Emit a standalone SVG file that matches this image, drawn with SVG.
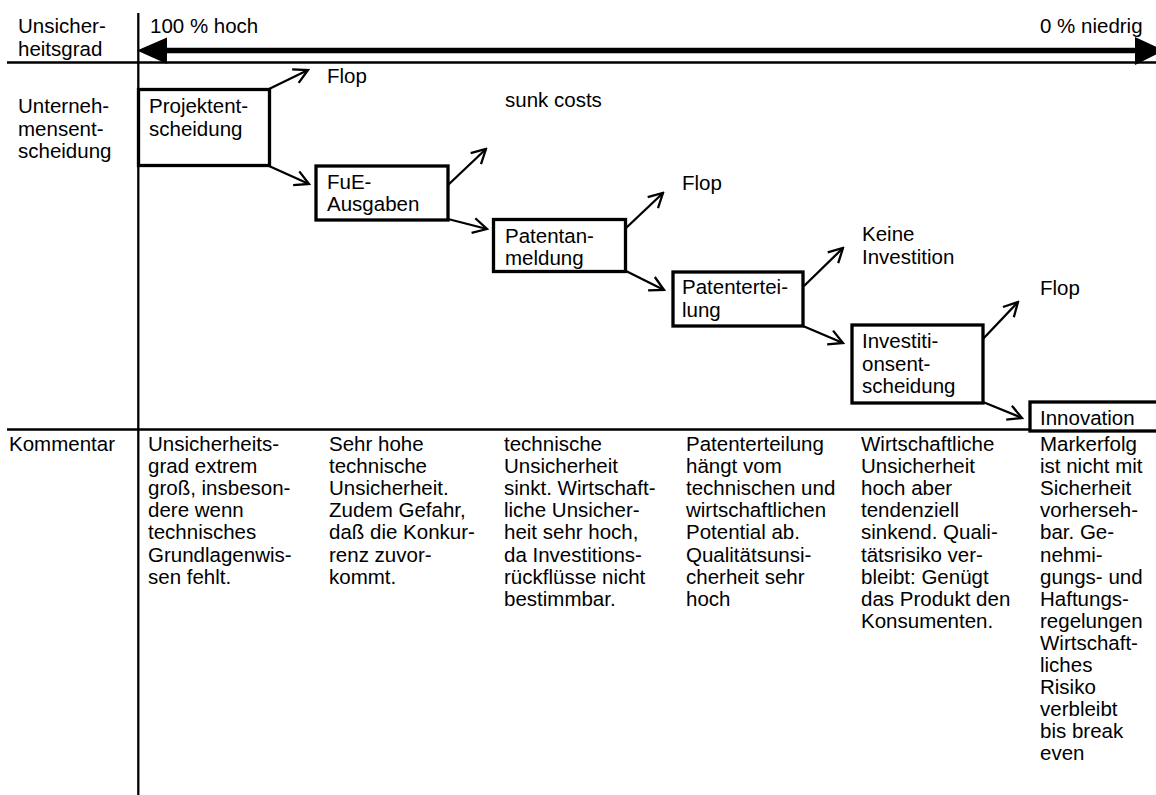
<svg xmlns="http://www.w3.org/2000/svg" width="1156" height="795" viewBox="0 0 1156 795">
  <defs>
    <style>
      text { font-family: "Liberation Sans", Arial, sans-serif; font-size: 20.5px; fill: #000; }
      .rule { stroke: #000; stroke-width: 2.3; fill: none; }
      .box { stroke: #000; stroke-width: 3.3; fill: #fff; }
      .edge { stroke: #000; stroke-width: 2.3; fill: none; marker-end: url(#chev); }
    </style>
    <marker id="chev" markerUnits="userSpaceOnUse" viewBox="-16 -9 18 18" refX="0" refY="0" markerWidth="18" markerHeight="18" orient="auto">
      <path d="M-14,-7.5 L0,0 L-14,7.5" fill="none" stroke="#000" stroke-width="2.3" stroke-linejoin="miter"/>
    </marker>
  </defs>
  <rect width="1156" height="795" fill="#fff"/>

  <!-- table rules -->
  <g id="grid">
    <line class="rule" x1="7" y1="62.5" x2="1156" y2="62.5"/>
    <line class="rule" x1="7" y1="429.5" x2="1156" y2="429.5"/>
    <line class="rule" x1="138.3" y1="13" x2="138.3" y2="795"/>
  </g>

  <!-- uncertainty scale -->
  <g id="scale">
    <line x1="160" y1="50.5" x2="1140" y2="50.5" stroke="#000" stroke-width="5.5"/>
    <polygon points="137,50.5 167,37.5 167,64" fill="#000"/>
    <polygon points="1164,50.5 1135,37 1135,65" fill="#000"/>
    <text x="150" y="33">100 % hoch</text>
    <text x="1040" y="33">0 % niedrig</text>
  </g>

  <!-- row labels -->
  <g id="row-labels">
    <text x="18" y="33">Unsicher-</text>
    <text x="18" y="56">heitsgrad</text>
    <text x="18" y="113">Unterneh-</text>
    <text x="18" y="135.5">mensent-</text>
    <text x="18" y="158">scheidung</text>
    <text x="9" y="451">Kommentar</text>
  </g>

  <!-- connectors -->
  <g id="connectors">
    <line class="edge" x1="269" y1="89" x2="308" y2="70"/>
    <line class="edge" x1="269" y1="166" x2="309" y2="184"/>
    <line class="edge" x1="448" y1="185" x2="486" y2="149"/>
    <line class="edge" x1="448" y1="219" x2="487" y2="229"/>
    <line class="edge" x1="626" y1="228" x2="663" y2="193"/>
    <line class="edge" x1="626" y1="271" x2="664" y2="290"/>
    <line class="edge" x1="804" y1="286" x2="843" y2="248"/>
    <line class="edge" x1="803" y1="326" x2="843" y2="343"/>
    <line class="edge" x1="982" y1="340" x2="1018" y2="302"/>
    <line class="edge" x1="983" y1="402" x2="1022" y2="418"/>
  </g>

  <!-- decision nodes -->
  <g id="projektentscheidung">
    <rect class="box" x="138.5" y="89.5" width="131" height="76"/>
    <text x="149" y="113">Projektent-</text>
    <text x="149" y="135.5">scheidung</text>
  </g>
  <g id="fue-ausgaben">
    <rect class="box" x="316" y="166" width="132" height="54"/>
    <text x="327" y="188.5">FuE-</text>
    <text x="327" y="211">Ausgaben</text>
  </g>
  <g id="patentanmeldung">
    <rect class="box" x="493.5" y="219.5" width="132" height="52"/>
    <text x="505" y="242.5">Patentan-</text>
    <text x="505" y="265">meldung</text>
  </g>
  <g id="patenterteilung">
    <rect class="box" x="673" y="272" width="130" height="54"/>
    <text x="682" y="294">Patentertei-</text>
    <text x="682" y="317">lung</text>
  </g>
  <g id="investitionsentscheidung">
    <rect class="box" x="852" y="325" width="131" height="78"/>
    <text x="862" y="348">Investiti-</text>
    <text x="862" y="370.5">onsent-</text>
    <text x="862" y="393">scheidung</text>
  </g>
  <g id="innovation">
    <rect class="box" x="1030" y="402" width="130" height="29"/>
    <text x="1040" y="424.5">Innovation</text>
  </g>

  <!-- outcome labels -->
  <g id="outcomes">
    <text x="327" y="83">Flop</text>
    <text x="505" y="107">sunk costs</text>
    <text x="682" y="190">Flop</text>
    <text x="862" y="241">Keine</text>
    <text x="862" y="264">Investition</text>
    <text x="1040" y="295">Flop</text>
  </g>

  <!-- comments per stage -->
  <g id="comments">
    <text x="148" y="451">Unsicherheits-</text>
    <text x="148" y="473.1">grad extrem</text>
    <text x="148" y="495.2">groß, insbeson-</text>
    <text x="148" y="517.3">dere wenn</text>
    <text x="148" y="539.4">technisches</text>
    <text x="148" y="561.5">Grundlagenwis-</text>
    <text x="148" y="583.6">sen fehlt.</text>

    <text x="329" y="451">Sehr hohe</text>
    <text x="329" y="473.1">technische</text>
    <text x="329" y="495.2">Unsicherheit.</text>
    <text x="329" y="517.3">Zudem Gefahr,</text>
    <text x="329" y="539.4">daß die Konkur-</text>
    <text x="329" y="561.5">renz zuvor-</text>
    <text x="329" y="583.6">kommt.</text>

    <text x="504" y="451">technische</text>
    <text x="504" y="473.1">Unsicherheit</text>
    <text x="504" y="495.2">sinkt. Wirtschaft-</text>
    <text x="504" y="517.3">liche Unsicher-</text>
    <text x="504" y="539.4">heit sehr hoch,</text>
    <text x="504" y="561.5">da Investitions-</text>
    <text x="504" y="583.6">rückflüsse nicht</text>
    <text x="504" y="605.7">bestimmbar.</text>

    <text x="686" y="451">Patenterteilung</text>
    <text x="686" y="473.1">hängt vom</text>
    <text x="686" y="495.2">technischen und</text>
    <text x="686" y="517.3">wirtschaftlichen</text>
    <text x="686" y="539.4">Potential ab.</text>
    <text x="686" y="561.5">Qualitätsunsi-</text>
    <text x="686" y="583.6">cherheit sehr</text>
    <text x="686" y="605.7">hoch</text>

    <text x="861" y="451">Wirtschaftliche</text>
    <text x="861" y="473.1">Unsicherheit</text>
    <text x="861" y="495.2">hoch aber</text>
    <text x="861" y="517.3">tendenziell</text>
    <text x="861" y="539.4">sinkend. Quali-</text>
    <text x="861" y="561.5">tätsrisiko ver-</text>
    <text x="861" y="583.6">bleibt: Genügt</text>
    <text x="861" y="605.7">das Produkt den</text>
    <text x="861" y="627.8">Konsumenten.</text>

    <text x="1040" y="451">Markerfolg</text>
    <text x="1040" y="473.1">ist nicht mit</text>
    <text x="1040" y="495.2">Sicherheit</text>
    <text x="1040" y="517.3">vorherseh-</text>
    <text x="1040" y="539.4">bar. Ge-</text>
    <text x="1040" y="561.5">nehmi-</text>
    <text x="1040" y="583.6">gungs- und</text>
    <text x="1040" y="605.7">Haftungs-</text>
    <text x="1040" y="627.8">regelungen</text>
    <text x="1040" y="649.9">Wirtschaft-</text>
    <text x="1040" y="672">liches</text>
    <text x="1040" y="694.1">Risiko</text>
    <text x="1040" y="716.2">verbleibt</text>
    <text x="1040" y="738.3">bis break</text>
    <text x="1040" y="760.4">even</text>
  </g>
</svg>
